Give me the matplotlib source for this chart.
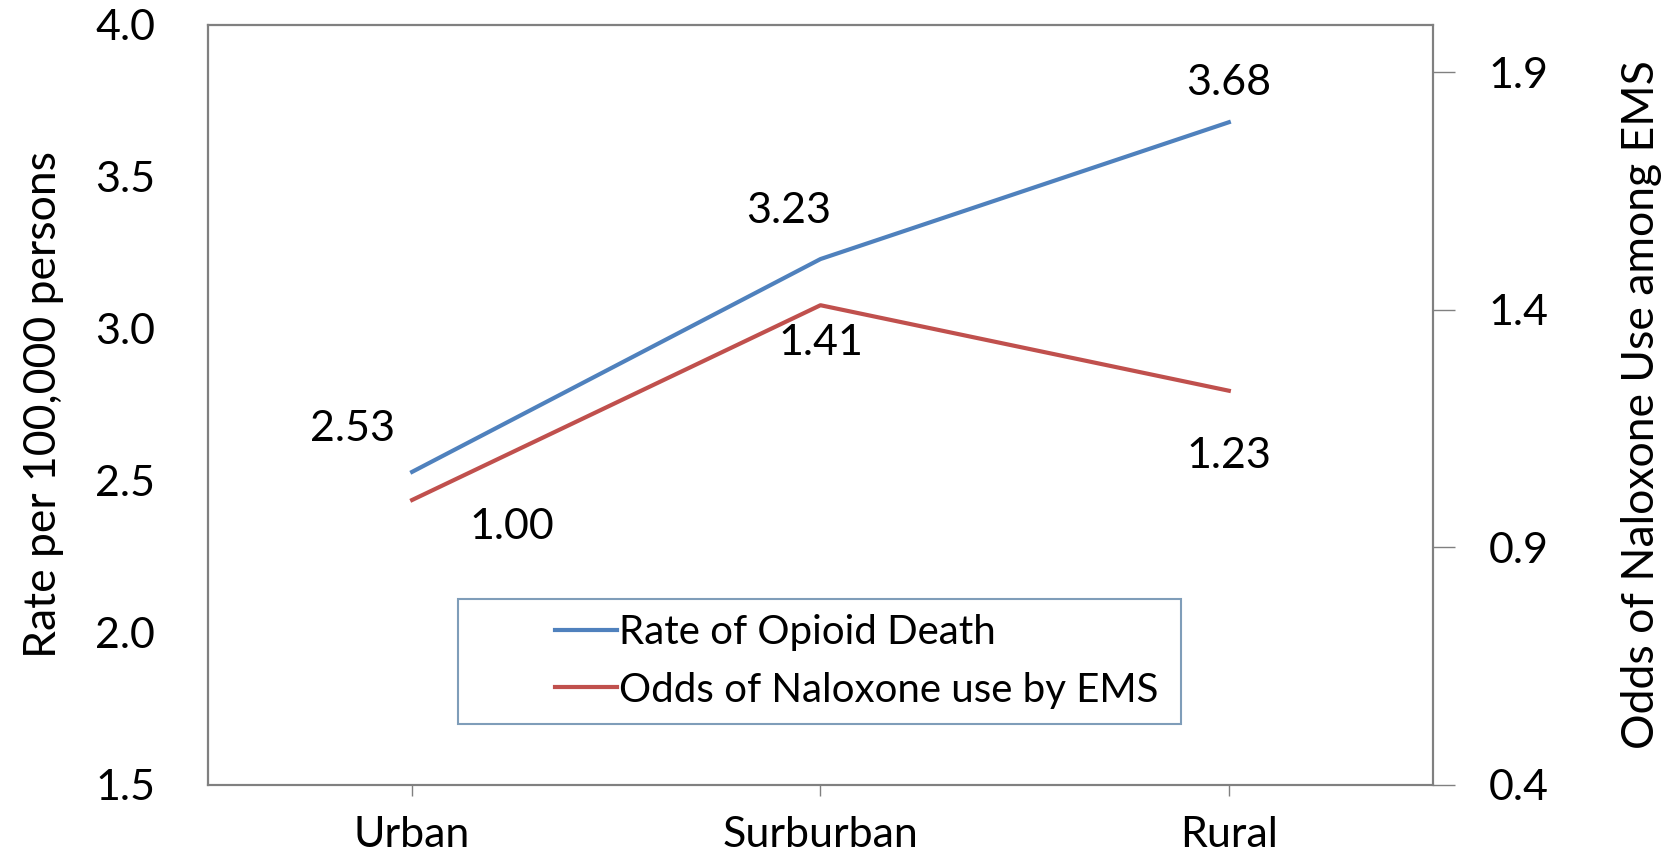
import matplotlib.pyplot as plt
from matplotlib.patches import Rectangle

plt.rcParams['font.family'] = ['Lato', 'DejaVu Sans']

areas = ["Urban", "Surburban", "Rural"]
death_rate = [2.53, 3.23, 3.68]
naloxone_odds = [1.00, 1.41, 1.23]
left_ticks = [1.5, 2.0, 2.5, 3.0, 3.5, 4.0]
right_ticks = [0.4, 0.9, 1.4, 1.9]

blue = '#4F81BD'
red = '#C0504D'

fig, ax = plt.subplots(figsize=(16.69, 8.58), dpi=100)
fig.subplots_adjust(left=0.1246, right=0.8586, top=0.9709, bottom=0.0851)
ax2 = ax.twinx()

x = range(len(areas))
l1, = ax.plot(x, death_rate, color=blue, lw=3, label="Rate of Opioid Death")
l2, = ax2.plot(x, naloxone_odds, color=red, lw=3, label="Odds of Naloxone use by EMS")

ax.set_xlim(-0.5, 2.5)
ax.set_ylim(1.5, 4.0)
ax2.set_ylim(0.4, 2.0)
ax.set_yticks(left_ticks)
ax.set_yticklabels([f"{v:.1f}" for v in left_ticks])
ax2.set_yticks(right_ticks)
ax2.set_yticklabels([f"{v:.1f}" for v in right_ticks])
ax.set_xticks(list(x))
ax.set_xticklabels(areas)

ax.tick_params(axis='y', length=0, pad=38, labelsize=31)
ax2.tick_params(axis='y', length=16, width=1, color='#808080', pad=24, labelsize=31)
ax.tick_params(axis='x', length=8, width=1, color='#808080', pad=14, labelsize=31)

for a in (ax, ax2):
    for s in a.spines.values():
        s.set_color('#808080')
        s.set_linewidth(1.5)
ax.spines['left'].set_color('#404040')
ax.spines['top'].set_color('#404040')

ax.set_ylabel("Rate per 100,000 persons", fontsize=32, labelpad=22)
ax2.set_ylabel("Odds of Naloxone Use among EMS", fontsize=32, labelpad=52)

# data labels (offsets in pixels)
blue_off = [(-60, 43), (-32, 48), (0, 39)]
red_off = [(100, -27), (0, -38), (0, -65)]
for i in x:
    ax.annotate(f"{death_rate[i]:.2f}", (i, death_rate[i]), xytext=blue_off[i],
                textcoords='offset pixels', ha='center', va='center', fontsize=31)
    ax2.annotate(f"{naloxone_odds[i]:.2f}", (i, naloxone_odds[i]), xytext=red_off[i],
                 textcoords='offset pixels', ha='center', va='center', fontsize=31)

# legend box
ax2.add_patch(Rectangle((0.204, 0.080), 0.590, 0.165, transform=ax2.transAxes,
                        fill=False, edgecolor='#7F9DB9', lw=1.5, zorder=5))
ax2.legend(handles=[l1, l2], loc='center left', bbox_to_anchor=(0.27, 0.1625),
           frameon=False, fontsize=29, handlelength=1.55, handletextpad=0.05,
           labelspacing=0.5, borderaxespad=0)

fig.savefig("out.png", dpi=100)
